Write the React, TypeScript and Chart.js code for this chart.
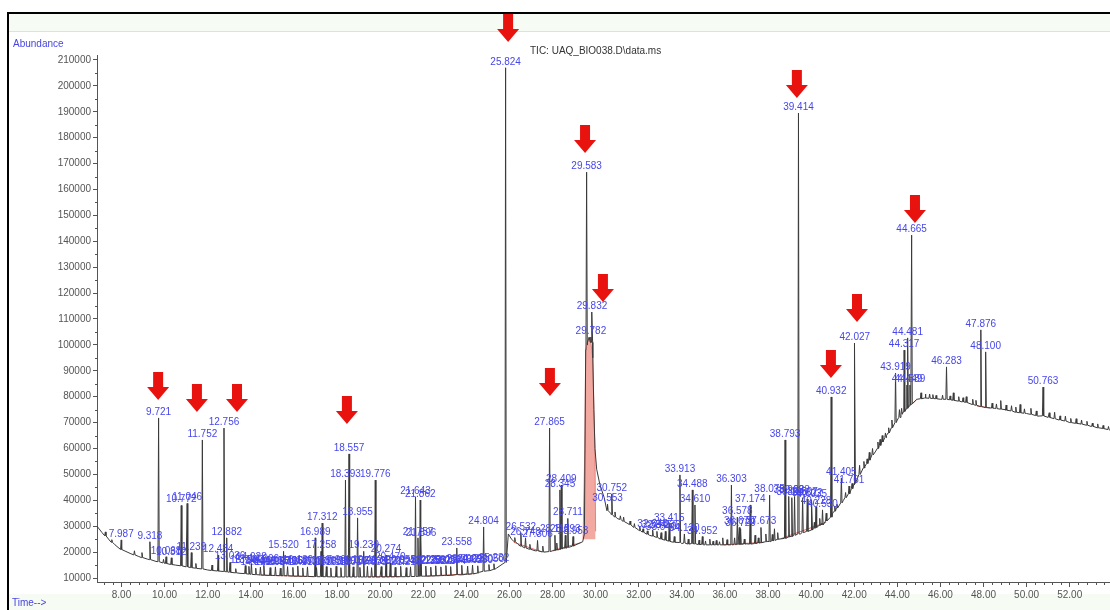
import React, { useEffect, useRef } from "react";
import { Chart, registerables } from "chart.js";

Chart.register(...registerables);

const W = 1110;
const H = 610;

// Axis ranges and ticks
const X_MIN = 6.863;
const X_MAX = 53.87;
const Y_MIN = 8456;
const Y_MAX = 211930;
const X_TICKS = [8, 10, 12, 14, 16, 18, 20, 22, 24, 26, 28, 30, 32, 34, 36, 38, 40, 42, 44, 46, 48, 50, 52];
const Y_TICKS = [10000, 20000, 30000, 40000, 50000, 60000, 70000, 80000, 90000, 100000, 110000, 120000, 130000, 140000, 150000, 160000, 170000, 180000, 190000, 200000, 210000];

// Baseline of the TIC trace (time, abundance)
const BASE_T = [6.863, 7.1, 7.4, 7.7, 8.0, 8.4, 8.8, 9.2, 9.6, 10.0, 10.5, 11.0, 11.5, 12.0, 12.5, 13.0, 13.5, 14.0, 15.0, 16.0, 17.0, 18.0, 19.0, 20.0, 21.0, 22.0, 23.0, 24.0, 24.6, 25.0, 25.4, 25.7, 25.95, 26.1, 26.4, 26.8, 27.2, 27.6, 28.0, 28.5, 29.0, 29.4, 29.48, 29.54, 29.62, 29.7, 29.87, 29.92, 29.97, 30.05, 30.2, 30.4, 30.55, 30.7, 31.0, 31.5, 32.0, 32.5, 33.0, 33.5, 34.0, 35.0, 36.0, 37.0, 38.0, 38.5, 39.0, 39.5, 40.0, 40.5, 41.0, 41.5, 42.0, 42.5, 43.0, 43.5, 44.0, 44.3, 44.6, 44.9, 45.3, 46.0, 47.0, 47.5, 48.0, 48.5, 49.0, 49.5, 50.0, 50.5, 51.0, 51.5, 52.0, 52.5, 53.0, 53.5, 53.87];
const BASE_V = [30000, 27500, 25000, 22800, 21000, 19500, 18300, 17300, 16400, 15700, 15000, 14300, 13700, 13100, 12600, 12200, 11800, 11500, 11000, 10700, 10500, 10400, 10400, 10400, 10500, 10700, 11000, 11500, 12200, 12800, 13800, 15500, 27000, 25000, 23000, 21500, 20500, 20000, 20500, 21500, 22500, 24000, 27000, 98000, 101000, 103000, 95000, 75000, 60000, 52000, 46000, 41000, 36500, 35000, 33000, 31000, 28500, 26500, 25000, 24000, 23300, 22800, 22800, 23200, 24200, 25000, 26000, 27000, 28500, 31000, 35000, 40000, 46000, 53000, 59000, 65000, 71000, 74500, 77500, 79000, 79500, 79000, 78000, 77000, 76000, 75500, 75000, 74000, 73500, 72500, 72000, 71000, 70000, 69500, 68500, 67800, 67000];

// Labelled peaks: [retention time, apex abundance, base abundance]
const PEAKS: [number, number, number][] = [
  [7.987, 24700, 21000], [9.318, 24000, 17100], [9.721, 71800, 16300], [10.068, 18200, 15600],
  [10.312, 17800, 15200], [10.772, 38000, 14700], [11.046, 38800, 14300], [11.239, 19800, 14000],
  [11.752, 63300, 13500], [12.484, 18800, 12700], [12.756, 67900, 12500], [12.882, 25500, 12400],
  [13.036, 16000, 12200], [13.744, 14800, 11700], [13.912, 14500, 11500], [14.028, 15600, 11400],
  [14.229, 13800, 11300], [14.446, 14200, 11200], [14.606, 14900, 11100], [14.898, 14000, 11000],
  [15.143, 14300, 10950], [15.371, 13800, 10900], [15.52, 20300, 10900], [15.706, 14400, 10850],
  [15.952, 14100, 10750], [16.18, 14600, 10700], [16.413, 13900, 10650], [16.63, 14300, 10600],
  [16.989, 25500, 10500], [17.05, 14000, 10500], [17.258, 20300, 10500], [17.312, 31200, 10500],
  [17.505, 14400, 10500], [17.713, 13900, 10450], [17.96, 14500, 10400], [18.18, 14000, 10400],
  [18.393, 47800, 10400], [18.557, 57900, 10400], [18.752, 14300, 10400], [18.955, 33200, 10400],
  [19.063, 14100, 10400], [19.239, 20300, 10400], [19.412, 14500, 10400], [19.605, 14000, 10400],
  [19.776, 47800, 10400], [20.052, 14400, 10400], [20.274, 18800, 10400], [20.47, 15800, 10450],
  [20.702, 14100, 10450], [20.955, 14500, 10500], [21.21, 14000, 10500], [21.412, 14300, 10550],
  [21.643, 41300, 10600], [21.757, 25500, 10600], [21.862, 40100, 10650], [21.896, 25000, 10700],
  [22.12, 14600, 10700], [22.352, 14200, 10750], [22.581, 14700, 10800], [22.82, 14300, 10900],
  [23.053, 14800, 10950], [23.274, 14400, 11000], [23.558, 21600, 11300], [23.79, 14900, 11200],
  [24.062, 14600, 11400], [24.29, 15000, 11600], [24.53, 14700, 11900], [24.804, 29700, 12600],
  [25.05, 15200, 12800], [25.282, 15500, 13300], [25.824, 207000, 16000], [26.532, 27500, 22300],
  [26.748, 25500, 21600], [27.306, 24500, 20500], [27.865, 67900, 20200], [28.112, 26500, 20600],
  [28.345, 44000, 21000], [28.409, 45900, 21200], [28.593, 26500, 21500], [28.711, 33000, 21800],
  [28.953, 26000, 22300], [29.583, 166700, 100000], [29.782, 103000, 101000], [29.832, 112700, 101000],
  [30.553, 38500, 36000], [30.752, 42500, 34500], [32.648, 28500, 26200], [32.845, 28000, 25700],
  [33.04, 27500, 25000], [33.236, 28000, 24600], [33.415, 31000, 24200], [33.913, 49800, 23700],
  [34.12, 27000, 23500], [34.488, 44000, 23300], [34.61, 38200, 23200], [34.952, 26000, 23000],
  [36.303, 45900, 22800], [36.578, 33500, 22900], [36.67, 29500, 22900], [36.729, 29000, 23000],
  [37.174, 38200, 23100], [37.673, 29500, 23600], [38.075, 42000, 24000], [38.793, 63300, 25300],
  [38.962, 41500, 25800], [39.105, 41000, 26000], [39.233, 41500, 26500], [39.414, 189500, 27000],
  [39.607, 41000, 27500], [39.822, 40500, 28000], [40.035, 40000, 28500], [40.228, 37500, 29500],
  [40.53, 36300, 30500], [40.932, 79900, 33500], [41.405, 48600, 39000], [41.761, 45500, 42500],
  [42.027, 100700, 46500], [43.919, 89100, 70000], [44.317, 98000, 74300], [44.449, 84500, 75500],
  [44.481, 102700, 75800], [44.589, 84500, 76800], [44.665, 142400, 77300], [46.283, 91500, 79000],
  [47.876, 105800, 76200], [48.1, 97300, 75800], [50.763, 83700, 72600],
];

// Unlabelled small peaks / noise: [time, apex, base]
const NOISE: [number, number, number][] = [
  [7.25, 27800, 26300], [7.55, 24800, 23800], [8.6, 20500, 18900], [8.95, 19800, 17900],
  [9.95, 17200, 15800], [11.45, 15600, 13800], [12.2, 15000, 12900], [13.3, 13600, 12000],
  [26.25, 25600, 24000], [26.95, 23000, 21100], [27.55, 22300, 20100], [28.2, 23500, 20800],
  [30.9, 35500, 33600], [31.15, 34000, 32600], [31.3, 33500, 31800], [31.6, 32000, 30600],
  [31.8, 31000, 29500], [32.05, 29800, 28300], [32.2, 29000, 27700], [32.4, 28200, 26900],
  [33.65, 26000, 23800], [34.3, 25000, 23100], [34.8, 24600, 22900], [35.1, 24300, 22800],
  [35.3, 25000, 22800], [35.45, 24200, 22800], [35.6, 24500, 22800], [35.75, 24000, 22800],
  [35.9, 25500, 22800], [36.1, 24800, 22800], [36.45, 25500, 22900], [36.9, 25000, 23100],
  [37.4, 26500, 23300], [37.55, 25500, 23500], [37.9, 27000, 24000], [38.2, 26800, 24300],
  [38.3, 29000, 24500], [38.45, 27500, 24900], [40.15, 31500, 29200], [40.4, 33000, 30300],
  [40.7, 35000, 32000], [41.1, 37800, 35800], [41.2, 38500, 37000], [41.6, 43000, 41000],
  [41.9, 46500, 44500], [42.25, 53500, 50000], [42.45, 55000, 52500], [42.6, 56000, 54200],
  [42.7, 58500, 55500], [42.85, 60000, 57500], [43.1, 62500, 60000], [43.2, 63500, 61200],
  [43.3, 65000, 62500], [43.45, 66000, 64200], [43.6, 68000, 66000], [43.75, 71000, 68000],
  [44.1, 75000, 72000], [44.2, 75500, 73200], [45.1, 81500, 79200], [45.3, 81000, 79500],
  [45.5, 81000, 79400], [45.65, 80800, 79300], [45.8, 80500, 79200], [46.1, 80600, 79000],
  [46.45, 80300, 78800], [46.6, 81500, 78600], [46.85, 80000, 78300], [47.05, 79600, 78000],
  [47.2, 80000, 77800], [47.5, 79000, 77000], [47.65, 78600, 76700], [48.4, 77500, 75600],
  [48.6, 77200, 75400], [48.8, 78500, 75200], [49.05, 76800, 74800], [49.3, 76500, 74500],
  [49.5, 76000, 74000], [49.7, 77000, 73800], [49.9, 75300, 73600], [50.2, 75500, 73200],
  [50.45, 74500, 72700], [51.05, 73800, 72000], [51.3, 74000, 71500], [51.55, 72600, 71000],
  [51.8, 72500, 70600], [52.05, 71600, 70000], [52.3, 71500, 69700], [52.55, 71000, 69400],
  [52.8, 70500, 69000], [53.05, 69800, 68600], [53.3, 69500, 68000], [53.55, 68900, 67700],
  [53.8, 68500, 67300],
];

// Integration shading of the broad peak near 29.6 min
const SHADE_T = [29.42, 29.5, 29.54, 29.62, 29.75, 29.87, 29.92, 29.97, 30.0];
const SHADE_V = [25000, 60000, 98000, 101000, 103000, 95000, 75000, 60000, 28000];

// Red integration baselines
const RED_SEGS: [number, number][][] = [
  [[14.4, 11100], [16.9, 10550]], [[19.4, 10450], [20.9, 10550]], [[22.1, 10750], [24.4, 11700]],
  [[26.2, 23800], [27.5, 20100]], [[28.0, 20600], [29.3, 23600]], [[35.9, 22800], [37.8, 23800]],
  [[38.6, 25200], [40.7, 31500]], [[44.2, 73500], [44.9, 78800]], [[47.7, 76400], [48.3, 75700]],
];

// Red arrows: x position (time) and tip abundance
const ARROW_T = [9.7, 11.5, 13.36, 18.46, 25.94, 27.88, 29.51, 30.34, 39.34, 40.92, 42.13, 44.82];
const ARROW_TIP = [78726, 74093, 74093, 69460, 216950, 80270, 174095, 116564, 195328, 87220, 108842, 147066];

const FONT = "'Liberation Sans', Arial, sans-serif";
const HALF_W = 0.03;

function buildTrace() {
  const pts: { x: number; y: number }[] = [];
  BASE_T.forEach((t, i) => pts.push({ x: t, y: BASE_V[i] }));
  [...PEAKS, ...NOISE].forEach(([t, a, b]) => {
    pts.push({ x: t - HALF_W, y: b }, { x: t, y: a }, { x: t + HALF_W, y: b });
  });
  pts.sort((p, q) => p.x - q.x);
  return pts;
}

const decor = {
  id: "decor",
  beforeDraw(chart: any) {
    const ctx = chart.ctx;
    ctx.save();
    ctx.fillStyle = "#ffffff";
    ctx.fillRect(0, 0, W, H);
    ctx.fillStyle = "#f6fbf3";
    ctx.fillRect(9, 14, W - 9, 18);
    ctx.fillRect(9, 594, W - 9, 16);
    ctx.fillStyle = "#d6e9cc";
    ctx.fillRect(9, 31, W - 9, 1);
    ctx.fillStyle = "#000000";
    ctx.fillRect(7, 12, W - 7, 2);
    ctx.fillRect(7, 12, 2, H - 12);
    ctx.restore();
  },
  afterDraw(chart: any) {
    const ctx = chart.ctx;
    const xs = chart.scales.x;
    const ys = chart.scales.y;
    const area = chart.chartArea;
    ctx.save();
    // minor ticks
    ctx.strokeStyle = "#555";
    ctx.lineWidth = 1;
    ctx.beginPath();
    for (let k = -2; k <= 120; k++) {
      const t = 8 + k * 0.4;
      if (t < X_MIN || t > X_MAX || k % 5 === 0) continue;
      const px = Math.round(xs.getPixelForValue(t)) + 0.5;
      ctx.moveTo(px, area.bottom);
      ctx.lineTo(px, area.bottom + 3);
    }
    for (let v = 15000; v < Y_MAX; v += 10000) {
      const py = Math.round(ys.getPixelForValue(v)) + 0.5;
      ctx.moveTo(area.left - 2, py);
      ctx.lineTo(area.left, py);
    }
    ctx.stroke();

    // peak labels
    ctx.font = `10px ${FONT}`;
    ctx.fillStyle = "rgb(70,70,235)";
    ctx.textAlign = "center";
    ctx.textBaseline = "alphabetic";
    PEAKS.forEach(([t, a]) => {
      const px = xs.getPixelForValue(t);
      const py = ys.getPixelForValue(a);
      ctx.fillText(t.toFixed(3), px, py - 3);
    });

    // texts
    ctx.textAlign = "left";
    ctx.fillStyle = "rgb(70,70,225)";
    ctx.font = `10px ${FONT}`;
    ctx.fillText("Abundance", 13, 47);
    ctx.fillText("Time-->", 12, 606);
    ctx.fillStyle = "#333";
    ctx.fillText("TIC: UAQ_BIO038.D\\data.ms", 530, 54);

    // red arrows
    ctx.fillStyle = "#e8130f";
    ARROW_T.forEach((t, i) => {
      const cx = xs.getPixelForValue(t);
      const tip = ys.getPixelForValue(ARROW_TIP[i]);
      const headH = 13;
      const total = 28;
      const headW = 22;
      const shaftW = 10;
      ctx.beginPath();
      ctx.moveTo(cx, tip);
      ctx.lineTo(cx - headW / 2, tip - headH);
      ctx.lineTo(cx - shaftW / 2, tip - headH);
      ctx.lineTo(cx - shaftW / 2, tip - total);
      ctx.lineTo(cx + shaftW / 2, tip - total);
      ctx.lineTo(cx + shaftW / 2, tip - headH);
      ctx.lineTo(cx + headW / 2, tip - headH);
      ctx.closePath();
      ctx.fill();
    });
    ctx.restore();
  },
};

export default function App() {
  const ref = useRef<HTMLCanvasElement | null>(null);
  useEffect(() => {
    if (!ref.current) return;
    const redSets = RED_SEGS.map((seg) => ({
      label: "integration",
      data: seg.map(([x, y]) => ({ x, y })),
      borderColor: "rgba(225,70,50,0.8)",
      borderWidth: 1,
      pointRadius: 0,
      fill: false,
      order: 1,
    }));
    const chart = new Chart(ref.current, {
      type: "line",
      data: {
        datasets: [
          {
            label: "TIC",
            data: buildTrace(),
            borderColor: "#3a3a3a",
            borderWidth: 1,
            pointRadius: 0,
            tension: 0,
            fill: false,
            order: 0,
          },
          ...redSets,
          {
            label: "shade",
            data: SHADE_T.map((x, i) => ({ x, y: SHADE_V[i] })),
            borderColor: "rgba(230,120,110,0.9)",
            backgroundColor: "rgba(236,140,130,0.75)",
            borderWidth: 1,
            pointRadius: 0,
            fill: { value: 25000 },
            order: 2,
          },
        ] as any,
      },
      options: {
        responsive: false,
        animation: false,
        events: [],
        layout: { padding: { top: 55, left: 0, right: 0, bottom: 0 } },
        plugins: { legend: { display: false }, tooltip: { enabled: false }, title: { display: false } },
        scales: {
          x: {
            type: "linear",
            min: X_MIN,
            max: X_MAX,
            afterBuildTicks: (s: any) => {
              s.ticks = X_TICKS.map((value) => ({ value }));
            },
            afterFit: (s: any) => {
              s.height = 28;
            },
            ticks: {
              autoSkip: false,
              maxRotation: 0,
              padding: 2,
              color: "#555",
              font: { size: 10, family: FONT },
              callback: (v: any) => Number(v).toFixed(2),
            },
            grid: { drawOnChartArea: false, drawTicks: true, tickLength: 5, color: "#555" },
            border: { display: true, color: "#555" },
          },
          y: {
            type: "linear",
            min: Y_MIN,
            max: Y_MAX,
            afterBuildTicks: (s: any) => {
              s.ticks = Y_TICKS.map((value) => ({ value }));
            },
            afterFit: (s: any) => {
              s.width = 97;
            },
            ticks: {
              autoSkip: false,
              padding: 2,
              color: "#555",
              font: { size: 10, family: FONT },
              callback: (v: any) => String(Math.round(Number(v))),
            },
            grid: { drawOnChartArea: false, drawTicks: true, tickLength: 4, color: "#555" },
            border: { display: true, color: "#555" },
          },
        },
      } as any,
      plugins: [decor],
    });
    return () => chart.destroy();
  }, []);
  return (
    <div style={{ position: "fixed", left: 0, top: 0, width: W, height: H, background: "#fff" }}>
      <canvas ref={ref} width={W} height={H} style={{ width: W, height: H, display: "block" }} />
    </div>
  );
}
